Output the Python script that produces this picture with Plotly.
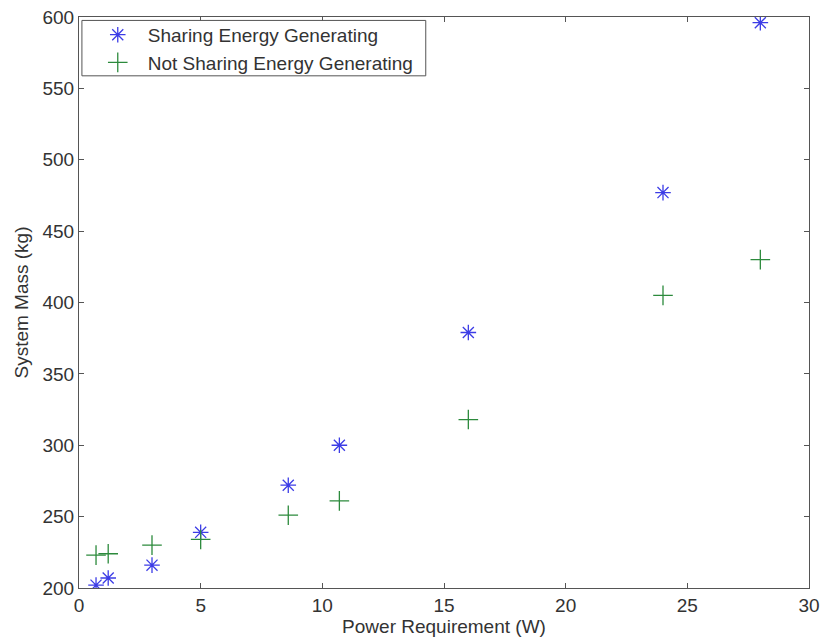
import plotly.graph_objects as go

power = [0.7, 1.2, 3.0, 5.0, 8.6, 10.7, 16.0, 24.0, 28.0]
mass_sharing = [202, 207, 216, 239, 272, 300, 379, 477, 596]
mass_not_sharing = [223, 224, 230, 234, 251, 261, 318, 405, 430]

series_names = ["Sharing Energy Generating", "Not Sharing Energy Generating"]
x_ticks = [0, 5, 10, 15, 20, 25, 30]
y_ticks = [200, 250, 300, 350, 400, 450, 500, 550, 600]

fig = go.Figure()
fig.add_trace(go.Scatter(
    x=power, y=mass_sharing, mode="markers", name=series_names[0],
    marker=dict(symbol="asterisk-open", size=13, color="#3c3ce6",
                line=dict(width=1.3, color="#3c3ce6")),
))
fig.add_trace(go.Scatter(
    x=power, y=mass_not_sharing, mode="markers", name=series_names[1],
    marker=dict(symbol="cross-thin-open", size=14, color="#2c8a3c",
                line=dict(width=1.3, color="#2c8a3c")),
))

axis_common = dict(
    showgrid=False, zeroline=False, showline=True, linecolor="#555",
    linewidth=1, mirror="allticks", ticks="inside", ticklen=5,
    tickcolor="#555", tickfont=dict(size=19, color="#333"),
    automargin=False,
)
fig.update_xaxes(range=[0, 30], tickvals=x_ticks,
                 title=dict(text="Power Requirement (W)", font=dict(size=19, color="#333"), standoff=0),
                 **axis_common)
fig.update_yaxes(range=[200, 600], tickvals=y_ticks,
                 title=dict(text="System Mass (kg)", font=dict(size=19, color="#333"), standoff=8),
                 **axis_common)

# legend frame
fig.add_shape(type="rect", xref="paper", yref="paper",
              x0=0.004, x1=0.475, y0=0.897, y1=0.994,
              line=dict(color="#555", width=1), fillcolor="white", layer="above")

fig.update_layout(
    width=820, height=640,
    margin=dict(l=79, r=11, t=17, b=52),
    paper_bgcolor="white", plot_bgcolor="white",
    font=dict(family="Liberation Sans, Arial, sans-serif", color="#333"),
    legend=dict(x=0.012, y=1.002, xanchor="left", yanchor="top",
                borderwidth=0, bgcolor="rgba(0,0,0,0)",
                font=dict(size=19, color="#333"), itemwidth=50,
                tracegroupgap=0),
    showlegend=True,
)

fig.write_html("out.html")
